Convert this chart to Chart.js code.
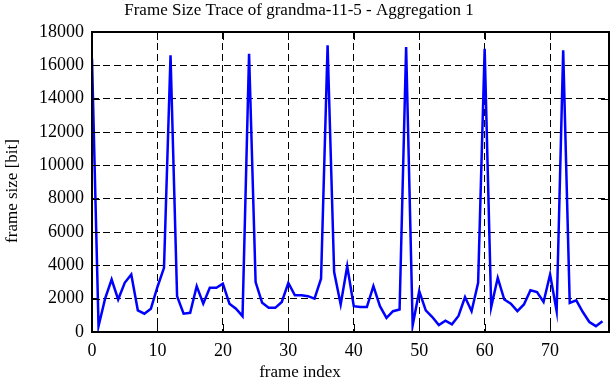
<!DOCTYPE html>
<html>
<head>
<meta charset="utf-8">
<script src="https://cdn.jsdelivr.net/npm/chart.js@4"></script>
<style>
  html, body { margin: 0; padding: 0; background: #fff; }
  #wrap { width: 612px; height: 382px; position: relative; }
</style>
</head>
<body>
<div id="wrap"><canvas id="c" width="612" height="382"></canvas></div>
<script>
const chartTitle = "Frame Size Trace of grandma-11-5 - Aggregation 1";
const xTitle = "frame index";
const yTitle = "frame size [bit]";
const frameIndex = [0,1,2,3,4,5,6,7,8,9,10,11,12,13,14,15,16,17,18,19,20,21,22,23,24,25,26,27,28,29,30,31,32,33,34,35,36,37,38,39,40,41,42,43,44,45,46,47,48,49,50,51,52,53,54,55,56,57,58,59,60,61,62,63,64,65,66,67,68,69,70,71,72,73,74,75,76,77,78];
const frameSize = [16400,350,2000,3150,1950,2950,3450,1300,1100,1400,2700,3850,16600,2150,1100,1150,2750,1700,2650,2650,2900,1700,1400,950,16700,3000,1750,1450,1450,1800,2950,2200,2200,2150,2000,3200,17200,3600,1650,3950,1550,1500,1500,2750,1550,850,1250,1350,17100,400,2450,1300,900,420,680,460,960,2100,1250,2950,17000,1500,3250,1950,1700,1250,1650,2500,2400,1800,3450,1250,16900,1750,1900,1200,600,350,650];
const xTicks = [0,10,20,30,40,50,60,70];
const yTicks = [0,2000,4000,6000,8000,10000,12000,14000,16000,18000];

const points = frameIndex.map((x, i) => ({ x: x, y: frameSize[i] }));

const decor = {
  id: 'decor',
  afterDatasetsDraw(chart) {
    const ctx = chart.ctx, a = chart.chartArea;
    const xs = chart.scales.x, ys = chart.scales.y;
    ctx.save();
    ctx.strokeStyle = '#000';
    ctx.lineWidth = 1;
    ctx.beginPath();
    xTicks.forEach(v => {
      const px = Math.round(xs.getPixelForValue(v)) + 0.5;
      ctx.moveTo(px, a.bottom); ctx.lineTo(px, a.bottom - 8);
      ctx.moveTo(px, a.top); ctx.lineTo(px, a.top + 8);
    });
    yTicks.forEach(v => {
      const py = Math.round(ys.getPixelForValue(v)) + 0.5;
      ctx.moveTo(a.left, py); ctx.lineTo(a.left + 8, py);
      ctx.moveTo(a.right, py); ctx.lineTo(a.right - 8, py);
    });
    ctx.stroke();
    ctx.lineWidth = 2;
    ctx.strokeRect(a.left, a.top, a.right - a.left, a.bottom - a.top);
    ctx.restore();
  },
  afterDraw(chart) {
    const ctx = chart.ctx;
    ctx.save();
    ctx.fillStyle = '#000';
    ctx.textAlign = 'center';
    ctx.textBaseline = 'middle';
    ctx.font = '17px "Liberation Serif"';
    ctx.fillText(chartTitle, 299, 11);
    ctx.fillText(xTitle, 300, 373);
    ctx.translate(13, 191);
    ctx.rotate(-Math.PI / 2);
    ctx.fillText(yTitle, 0, 0);
    ctx.restore();
  }
};

new Chart(document.getElementById('c'), {
  type: 'line',
  data: {
    datasets: [{
      data: points,
      borderColor: '#0000ff',
      borderWidth: 2.5,
      pointRadius: 0,
      tension: 0,
      fill: false
    }]
  },
  options: {
    responsive: false,
    animation: false,
    devicePixelRatio: 1,
    layout: { padding: { left: 0, right: 3, top: 32, bottom: 0 } },
    plugins: {
      legend: { display: false },
      tooltip: { enabled: false },
      title: { display: false }
    },
    scales: {
      x: {
        type: 'linear',
        min: 0,
        max: 79,
        afterBuildTicks(s) { s.ticks = xTicks.map(v => ({ value: v })); },
        afterFit(s) { s.height = 50; },
        grid: { color: '#000', lineWidth: 1, drawTicks: false },
        border: { display: false, dash: [7, 4] },
        ticks: { color: '#000', padding: 8, font: { family: 'Liberation Serif', size: 18 }, maxRotation: 0 }
      },
      y: {
        min: 0,
        max: 18000,
        afterBuildTicks(s) { s.ticks = yTicks.map(v => ({ value: v })); },
        afterFit(s) { s.width = 92; },
        grid: { color: '#000', lineWidth: 1, drawTicks: false },
        border: { display: false, dash: [7, 4] },
        ticks: { color: '#000', padding: 8, font: { family: 'Liberation Serif', size: 18 }, callback: v => String(v) }
      }
    }
  },
  plugins: [decor]
});
</script>
</body>
</html>
